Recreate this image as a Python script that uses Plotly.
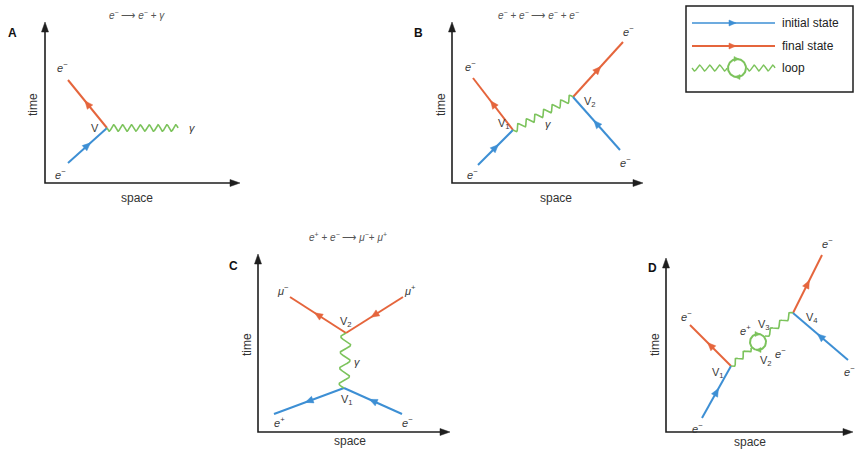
import numpy as np
import plotly.graph_objects as go

W, H = 856, 453
BLUE = "#3d8fd4"
RED = "#e5653c"
GREEN = "#7cc35c"
AXIS = "#1e1e1e"
TXT = "#3a3a3a"
FONT = "Liberation Sans, Arial, sans-serif"

# ---- data: panel frames ----
panel_names = ["A", "B", "C", "D"]
panel_label_xy = [(12, 33), (418, 33), (233, 266), (652, 268)]
panel_titles = ["<i>e</i><sup>−</sup> ⟶ <i>e</i><sup>−</sup> + <i>γ</i>",
                "<i>e</i><sup>−</sup> + <i>e</i><sup>−</sup> ⟶ <i>e</i><sup>−</sup> + <i>e</i><sup>−</sup>",
                "<i>e</i><sup>+</sup> + <i>e</i><sup>−</sup> ⟶ <i>μ</i><sup>−</sup>+ <i>μ</i><sup>+</sup>",
                ""]
panel_title_xy = [(137, 15), (538, 15), (348, 237), (0, 0)]
axis_origin = [(45, 183), (452, 183), (258, 432), (666, 432)]
axis_x_end = [240, 643, 450, 853]
axis_y_top = [22, 22, 254, 258]
time_xy = [(33, 105), (441, 105), (247, 345), (655, 345)]
space_xy = [(137, 198), (556, 198), (350, 441), (750, 442)]

# ---- fermion lines: (x0, y0) -> (x1, y1), kind, arrow direction (+1 toward end) ----
fermion_x0 = [68, 68, 473, 478, 573, 620, 290, 403, 344, 402, 690, 702, 793, 848]
fermion_y0 = [80, 163, 78, 165, 97, 150, 297, 297, 388, 414, 325, 418, 313, 360]
fermion_x1 = [107, 107, 513, 513, 623, 573, 346, 346, 274, 344, 731, 731, 822, 793]
fermion_y1 = [128, 128, 130, 130, 42, 97, 333, 333, 414, 388, 366, 366, 255, 313]
fermion_kind = ["final", "initial", "final", "initial", "final", "initial",
                "final", "final", "initial", "initial", "final", "initial", "final", "initial"]
fermion_arrow = [-1, 1, -1, 1, 1, 1, -1, 1, 1, 1, -1, 1, 1, 1]

# ---- photon (wavy) lines: endpoints, cycles, amplitude ----
photon_x0 = [107, 513, 346, 731, 765]
photon_y0 = [128, 130, 333, 366, 336]
photon_x1 = [178, 573, 344, 751, 793]
photon_y1 = [128, 97, 388, 348, 313]
photon_cycles = [8, 7, 3.5, 2.5, 3]
photon_amp = [3.2, 3.2, 5, 2.6, 2.6]

# ---- loop circle in panel D ----
loop_center = (758, 342)
loop_radius = 8

# ---- particle / vertex labels ----
label_text = ["<i>e</i><sup>−</sup>", "<i>e</i><sup>−</sup>", "V", "<i>γ</i>",
              "<i>e</i><sup>−</sup>", "<i>e</i><sup>−</sup>", "V<sub>1</sub>", "<i>γ</i>", "V<sub>2</sub>",
              "<i>e</i><sup>−</sup>", "<i>e</i><sup>−</sup>",
              "<i>μ</i><sup>−</sup>", "<i>μ</i><sup>+</sup>", "V<sub>2</sub>", "<i>γ</i>", "V<sub>1</sub>",
              "<i>e</i><sup>+</sup>", "<i>e</i><sup>−</sup>",
              "<i>e</i><sup>−</sup>", "V<sub>1</sub>", "<i>e</i><sup>−</sup>", "<i>e</i><sup>+</sup>", "V<sub>3</sub>",
              "V<sub>2</sub>", "<i>e</i><sup>−</sup>", "V<sub>4</sub>", "<i>e</i><sup>−</sup>", "<i>e</i><sup>−</sup>"]
label_x = [62, 60, 95, 192,
           470, 472, 504, 548, 590, 628, 625,
           283, 410, 346, 357, 347, 279, 407,
           686, 718, 697, 745, 764, 766, 780, 812, 827, 849]
label_y = [67, 174, 128, 128,
           66, 174, 124, 124, 102, 31, 162,
           290, 290, 322, 362, 400, 422, 422,
           316, 373, 428, 330, 325, 361, 353, 318, 243, 371]

# ---- legend ----
legend_box = (686, 6, 853, 92)
legend_text = ["initial state", "final state", "loop"]
legend_y = [23, 46, 68]

fig = go.Figure()


def add_line(xs, ys, color, width):
    fig.add_trace(go.Scatter(x=xs, y=ys, mode="lines", hoverinfo="skip",
                             line=dict(color=color, width=width), showlegend=False))


def add_triangle(tip, direction, color, length=8, half=3.5):
    d = np.array(direction, float)
    d /= np.linalg.norm(d)
    n = np.array([-d[1], d[0]])
    t = np.array(tip, float)
    b = t - d * length
    p1 = b + n * half
    p2 = b - n * half
    fig.add_trace(go.Scatter(x=[t[0], p1[0], p2[0], t[0]], y=[t[1], p1[1], p2[1], t[1]],
                             mode="lines", fill="toself", fillcolor=color,
                             line=dict(color=color, width=0.5), hoverinfo="skip", showlegend=False))


def wavy(p0, p1, cycles, amp, n=240):
    p0 = np.array(p0, float)
    p1 = np.array(p1, float)
    d = p1 - p0
    L = np.linalg.norm(d)
    u = d / L
    nv = np.array([-u[1], u[0]])
    t = np.linspace(0, 1, n)
    pts = p0[None, :] + t[:, None] * d[None, :] + (amp * np.sin(2 * np.pi * cycles * t))[:, None] * nv[None, :]
    return pts[:, 0], pts[:, 1]


# axes
for (ox, oy), xe, yt in zip(axis_origin, axis_x_end, axis_y_top):
    add_line([ox, ox, xe - 7], [yt + 7, oy, oy], AXIS, 1.6)
    add_triangle((xe, oy), (1, 0), AXIS, 10, 3.5)
    add_triangle((ox, yt), (0, -1), AXIS, 10, 3.5)

# fermions
for x0, y0, x1, y1, k, a in zip(fermion_x0, fermion_y0, fermion_x1, fermion_y1, fermion_kind, fermion_arrow):
    c = BLUE if k == "initial" else RED
    add_line([x0, x1], [y0, y1], c, 2)
    mx, my = (x0 + x1) / 2, (y0 + y1) / 2
    d = (x1 - x0, y1 - y0) if a > 0 else (x0 - x1, y0 - y1)
    dn = np.hypot(*d)
    tip = (mx + d[0] / dn * 4, my + d[1] / dn * 4)
    add_triangle(tip, d, c, 8, 3.5)

# photons
for x0, y0, x1, y1, cyc, amp in zip(photon_x0, photon_y0, photon_x1, photon_y1, photon_cycles, photon_amp):
    xs, ys = wavy((x0, y0), (x1, y1), cyc, amp)
    add_line(xs, ys, GREEN, 1.6)

# loop circle
th = np.linspace(0, 2 * np.pi, 100)
add_line(loop_center[0] + loop_radius * np.cos(th), loop_center[1] + loop_radius * np.sin(th), GREEN, 2)
add_triangle((loop_center[0] + 2, loop_center[1] - loop_radius), (1, 0), GREEN, 5, 2.5)
add_triangle((loop_center[0] - 2, loop_center[1] + loop_radius), (-1, 0), GREEN, 5, 2.5)

# legend
bx0, by0, bx1, by1 = legend_box
fig.add_shape(type="rect", x0=bx0, y0=by0, x1=bx1, y1=by1, line=dict(color=AXIS, width=1.5))
add_line([692, 775], [legend_y[0]] * 2, BLUE, 1.6)
add_triangle((736, legend_y[0]), (1, 0), BLUE, 7, 3)
add_line([692, 775], [legend_y[1]] * 2, RED, 2)
add_triangle((736, legend_y[1]), (1, 0), RED, 7, 3)
xs, ys = wavy((692, legend_y[2]), (727, legend_y[2]), 3.5, 3)
add_line(xs, ys, GREEN, 1.4)
xs, ys = wavy((747, legend_y[2]), (775, legend_y[2]), 3, 3)
add_line(xs, ys, GREEN, 1.4)
add_line(737 + 9 * np.cos(th), legend_y[2] + 9 * np.sin(th), GREEN, 2)
add_triangle((739, legend_y[2] - 9), (1, 0), GREEN, 5, 2.5)
add_triangle((735, legend_y[2] + 9), (-1, 0), GREEN, 5, 2.5)

ann = []
for t, y in zip(legend_text, legend_y):
    ann.append(dict(x=780, y=y, text=t, showarrow=False, xanchor="left", yanchor="middle",
                    font=dict(family=FONT, size=12, color="#222")))

for nm, (x, y) in zip(panel_names, panel_label_xy):
    ann.append(dict(x=x, y=y, text="<b>" + nm + "</b>", showarrow=False,
                    font=dict(family=FONT, size=12, color="#111")))
for t, (x, y) in zip(panel_titles, panel_title_xy):
    if t:
        ann.append(dict(x=x, y=y, text=t, showarrow=False,
                        font=dict(family=FONT, size=10, color="#555")))
for (x, y) in time_xy:
    ann.append(dict(x=x, y=y, text="time", showarrow=False, textangle=-90,
                    font=dict(family=FONT, size=12, color="#333")))
for (x, y) in space_xy:
    ann.append(dict(x=x, y=y, text="space", showarrow=False,
                    font=dict(family=FONT, size=12, color="#333")))
for t, x, y in zip(label_text, label_x, label_y):
    ann.append(dict(x=x, y=y, text=t, showarrow=False,
                    font=dict(family=FONT, size=11, color=TXT)))

fig.update_layout(
    width=W, height=H, margin=dict(l=0, r=0, t=0, b=0),
    paper_bgcolor="white", plot_bgcolor="white",
    xaxis=dict(range=[0, W], visible=False, fixedrange=True),
    yaxis=dict(range=[H, 0], visible=False, fixedrange=True),
    annotations=ann, showlegend=False,
)
fig.write_html("out.html", config={"displayModeBar": False},
               post_script="document.body.style.margin='0';document.body.style.padding='0';")
